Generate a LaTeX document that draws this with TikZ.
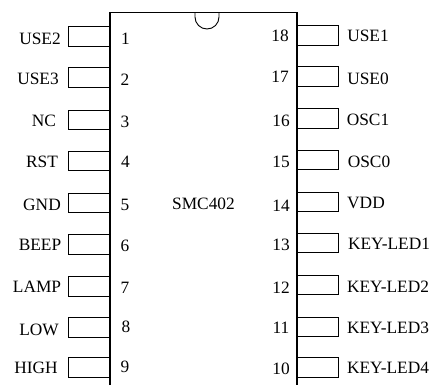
\documentclass[tikz,border=0pt]{standalone}
\usepackage{fontspec}
\setmainfont{Liberation Serif}
\begin{document}
\begin{tikzpicture}[line cap=butt,line join=miter,x=.75pt,y=.75pt,font=\fontsize{13}{14}\selectfont]
 \tikzset{pinbox/.style={draw,line width=.7pt,minimum width=30.8pt,minimum height=14.6pt,inner sep=0pt,outer sep=0pt},
 pinlabel/.style={inner sep=0pt},
 pinnum/.style={inner sep=0pt}
 }
 \useasboundingbox (0,-385) rectangle (431,0);
 % package outline, open at the bottom
 \coordinate (chipbl) at (110,-385);
 \coordinate (chiptl) at (110,-12.5);
 \coordinate (chiptr) at (297,-12.5);
 \coordinate (chipbr) at (297,-385);
 \draw[line width=.8pt] (chipbl)--(chiptl)--(chiptr)--(chipbr);
 \coordinate (notch) at (195,-12.5);
 \draw[line width=.7pt] (notch)--(195,-17) arc[start angle=180,end angle=360,radius=12]--(219,-12.5);
 \node[pinlabel] (chipname) at (203.5,-204) {SMC402};
 % left row
 \foreach \n/\lab/\py/\lx/\ly/\nx/\ny in {1/USE2/36.5/40/39/125.5/38.5,2/USE3/77.5/38/79/125/80,
 3/NC/120/44/121/125/122,4/RST/161/42/162/125.5/162,5/GND/203/42/205/125/205,6/BEEP/244.5/40/245/125/246,
 7/LAMP/286.5/37/287/125/288,8/LOW/327.5/39/330/126/327,9/HIGH/367.5/36/368/125/367}{
 \node[pinbox] (pin\n) at (89.2,-\py) {};
 \node[pinlabel] (lab\n) at (\lx,-\ly) {\lab};
 \node[pinnum] (num\n) at (\nx,-\ny) {\n};
 }
 % right row
 \foreach \n/\lab/\py/\lx/\ly/\nx/\ny in {18/USE1/35.3/368/36/280/36,17/USE0/76.3/368/79/280/77,
 16/OSC1/118.5/368/120/281/121,15/OSC0/159.7/369/162/281/162,14/VDD/202/366/203/281/206,13/KEY-LED1/242.7/389/244/281/245,
 12/KEY-LED2/285/388/287/281/288,11/KEY-LED3/327/388/328/281/328,10/KEY-LED4/367.5/388/368/281/369}{
 \node[pinbox] (pin\n) at (317.8,-\py) {};
 \node[pinlabel] (lab\n) at (\lx,-\ly) {\lab};
 \node[pinnum] (num\n) at (\nx,-\ny) {\n};
 }
\end{tikzpicture}
\end{document}
